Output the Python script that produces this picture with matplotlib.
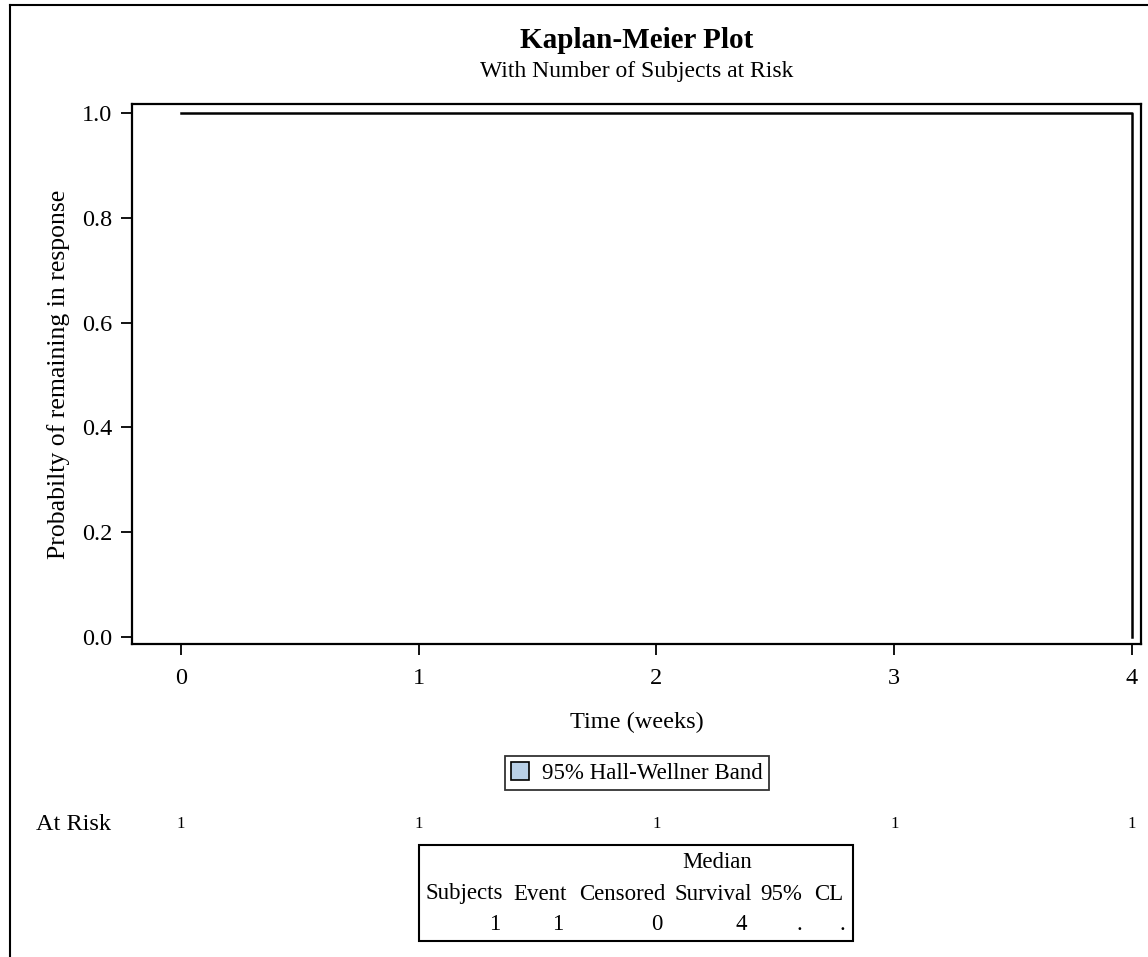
"""
Kaplan-Meier curve with a number-at-risk row and a summary table underneath.
Single subject, one event at week 4.
"""
import matplotlib
matplotlib.use("Agg")
import matplotlib.pyplot as plt
from matplotlib.patches import Rectangle
from matplotlib.lines import Line2D
import matplotlib.transforms as mtransforms

plt.rcParams["font.family"] = ["Liberation Serif", "DejaVu Serif"]

# survival step function
km_time = [0, 4]
km_surv = [1.0, 0.0]

# number at risk row
risk_time = [0, 1, 2, 3, 4]
risk_count = [1, 1, 1, 1, 1]

x_ticks = [0, 1, 2, 3, 4]
y_ticks = [0.0, 0.2, 0.4, 0.6, 0.8, 1.0]

# summary table
tbl_header = ["Subjects", "Event", "Censored", "Survival", "95%", "CL"]
tbl_values = ["1", "1", "0", "4", ".", "."]

W, H = 1148, 957
fig = plt.figure(figsize=(W / 100, H / 100), dpi=100)


def px(x, y):
    """pixel position (from top-left) -> figure fraction"""
    return x / W, 1 - y / H


# outer frame, only left and top edges
fig.add_artist(Line2D([10 / W, 10 / W], [0, 1 - 5 / H], transform=fig.transFigure,
                      color="black", lw=1.5))
fig.add_artist(Line2D([10 / W, 1], [1 - 5 / H, 1 - 5 / H], transform=fig.transFigure,
                      color="black", lw=1.5))

ax = fig.add_axes([132 / W, 1 - 644 / H, 1009 / W, 540 / H])
ax.step(km_time, km_surv, where="post", color="black", lw=1.8)
ax.set_xlim(-0.206, 4.038)
ax.set_ylim(-0.0134, 1.017)
ax.set_xticks(x_ticks)
ax.set_yticks(y_ticks)
ax.set_yticklabels([f"{v:.1f}" for v in y_ticks])
ax.tick_params(labelsize=17.5, length=8, width=1.3, direction="out", pad=6)
ax.tick_params(axis="x", pad=9)
for s in ax.spines.values():
    s.set_linewidth(1.6)
ax.set_xlabel("Time (weeks)", fontsize=17.5, labelpad=17)
ax.set_ylabel("Probabilty of remaining in response", fontsize=18.5, labelpad=9)

cx = (132 + 1141) / 2
fig.text(*px(cx, 40), "Kaplan-Meier Plot", ha="center", va="center",
         fontsize=21, fontweight="bold")
fig.text(*px(cx, 72), "With Number of Subjects at Risk", ha="center", va="center",
         fontsize=17)

# legend for the confidence band
leg_handle = Rectangle((0, 0), 1, 1, facecolor="#b9d0e8", edgecolor="black", lw=1.2)
leg = fig.legend([leg_handle], ["95% Hall-Wellner Band"], loc="center",
                 bbox_to_anchor=px(637, 773), fontsize=16.5, frameon=True,
                 fancybox=False, edgecolor="black", handlelength=0.8,
                 handleheight=0.8, handletextpad=0.55, borderpad=0.25,
                 borderaxespad=0)
leg.get_frame().set_linewidth(1.3)

# at-risk row aligned with the time axis
risk_tr = mtransforms.blended_transform_factory(ax.transData, fig.transFigure)
fig.text(*px(36, 824), "At Risk", ha="left", va="center", fontsize=17.5)
for t, n in zip(risk_time, risk_count):
    ax.text(t, 1 - 824 / H, str(n), transform=risk_tr, ha="center", va="center",
            fontsize=12, clip_on=False)

# summary table
tx0, tx1, ty0, ty1 = 419, 853, 845, 941
fig.add_artist(Rectangle(px(tx0, ty1), (tx1 - tx0) / W, (ty1 - ty0) / H,
                         transform=fig.transFigure, fill=False,
                         edgecolor="black", lw=1.5))
col_right = [503, 567, 666, 752, 802, 843]
fig.text(*px(752, 862), "Median", ha="right", va="center", fontsize=16.5)
for xr, h in zip(col_right, tbl_header):
    fig.text(*px(xr, 894), h, ha="right", va="center", fontsize=16.5)
val_right = [500, 563, 662, 747, 802, 845]
for xr, v in zip(val_right, tbl_values):
    fig.text(*px(xr, 925), v, ha="right", va="center", fontsize=16.5)

fig.savefig("out.png", dpi=100)
